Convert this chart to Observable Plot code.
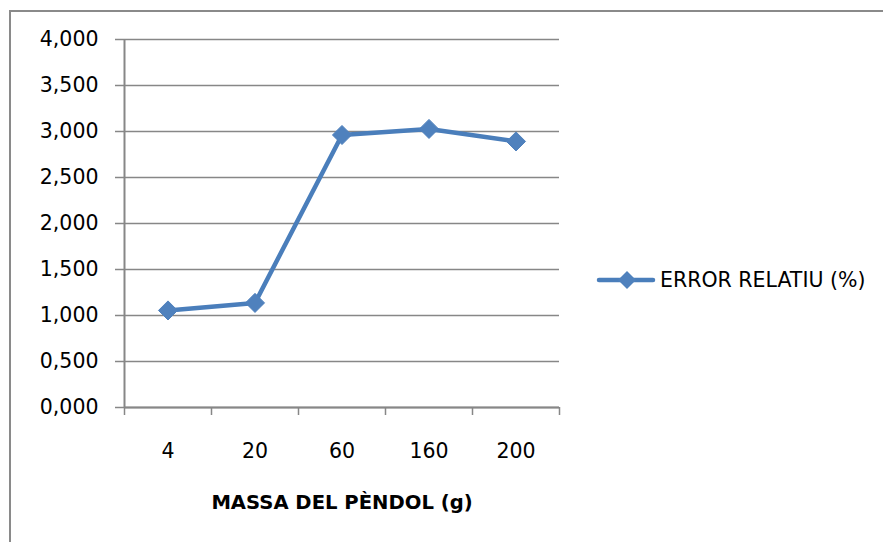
<!DOCTYPE html>
<html>
<head>
<meta charset="utf-8">
<script src="https://cdn.jsdelivr.net/npm/d3@7"></script>
<script src="https://cdn.jsdelivr.net/npm/@observablehq/plot@0.6"></script>
<style>
  html, body { margin: 0; padding: 0; background: #fff; overflow: hidden; }
  body { width: 883px; height: 542px; position: relative; font-family: "DejaVu Sans", sans-serif; }
  #frame { position: absolute; left: 9px; top: 10px; width: 900px; height: 600px; border: 2.5px solid #8a8a8a; box-sizing: border-box; }
  #chart { position: absolute; left: 0; top: 0; }
  #legend { position: absolute; left: 596px; top: 266px; display: flex; align-items: center; font-size: 20.5px; color: #000; white-space: nowrap; }
</style>
</head>
<body>
<div id="frame"></div>
<div id="chart"></div>
<div id="legend"></div>
<script>
// Data
const categories = ["4", "20", "60", "160", "200"];
const values = [1.055, 1.137, 2.962, 3.028, 2.892];
const yTicks = [0, 0.5, 1, 1.5, 2, 2.5, 3, 3.5, 4];
const seriesName = "ERROR RELATIU (%)";
const xTitle = "MASSA DEL PÈNDOL (g)";

const data = categories.map((c, i) => ({cat: c, i: i + 0.5, v: values[i]}));
const boundaries = d3.range(categories.length + 1);
const centers = categories.map((c, i) => i + 0.5);

const lineColor = "#4a7ebb";
const markColor = "#4f81bd";
const gridColor = "#878787";
const fmt = d => d.toFixed(3).replace(".", ",");

const chart = Plot.plot({
  width: 883,
  height: 542,
  marginLeft: 124,
  marginRight: 324,
  marginTop: 39,
  marginBottom: 135,
  style: {fontFamily: "DejaVu Sans, sans-serif", fontSize: "20.5px", color: "#000", background: "transparent"},
  x: {type: "linear", domain: [0, categories.length], axis: null},
  y: {domain: [0, 4], axis: null},
  marks: [
    Plot.gridY(yTicks, {stroke: gridColor, strokeOpacity: 1, strokeWidth: 1.5}),
    Plot.ruleX([0], {stroke: gridColor, strokeWidth: 2}),
    Plot.ruleY([0], {stroke: gridColor, strokeWidth: 2}),
    Plot.axisY({ticks: yTicks, tickSize: 9, tickPadding: 17, tickFormat: fmt, stroke: gridColor, strokeWidth: 1.5, fill: "#000", fontSize: 20.5, label: null}),
    Plot.axisX({ticks: boundaries, tickSize: 8, tickFormat: () => "", stroke: gridColor, strokeWidth: 1.5, label: null}),
    Plot.axisX({ticks: centers, tickSize: 0, tickPadding: 36, tickFormat: (d) => categories[Math.round(d - 0.5)], fill: "#000", fontSize: 20.5, label: null}),
    Plot.text([xTitle], {frameAnchor: "bottom", dy: 95, text: d => d, fontWeight: "bold", fontSize: 19.6, fill: "#000", textAnchor: "middle", lineAnchor: "middle"}),
    Plot.line(data, {x: "i", y: "v", stroke: lineColor, strokeWidth: 4.5, strokeLinejoin: "round", strokeLinecap: "round"}),
    Plot.dot(data, {x: "i", y: "v", symbol: "diamond2", r: 8.6, fill: markColor, stroke: markColor, strokeWidth: 1})
  ]
});
document.getElementById("chart").appendChild(chart);

// Legend
const legend = document.getElementById("legend");
legend.innerHTML =
  `<svg width="60" height="28" style="margin-right:4px">
     <line x1="3" y1="14" x2="57" y2="14" stroke="${lineColor}" stroke-width="4.5" stroke-linecap="round"/>
     <path d="M31,5 L40,14 L31,23 L22,14 Z" fill="${markColor}"/>
   </svg><span>${seriesName}</span>`;
</script>
</body>
</html>
